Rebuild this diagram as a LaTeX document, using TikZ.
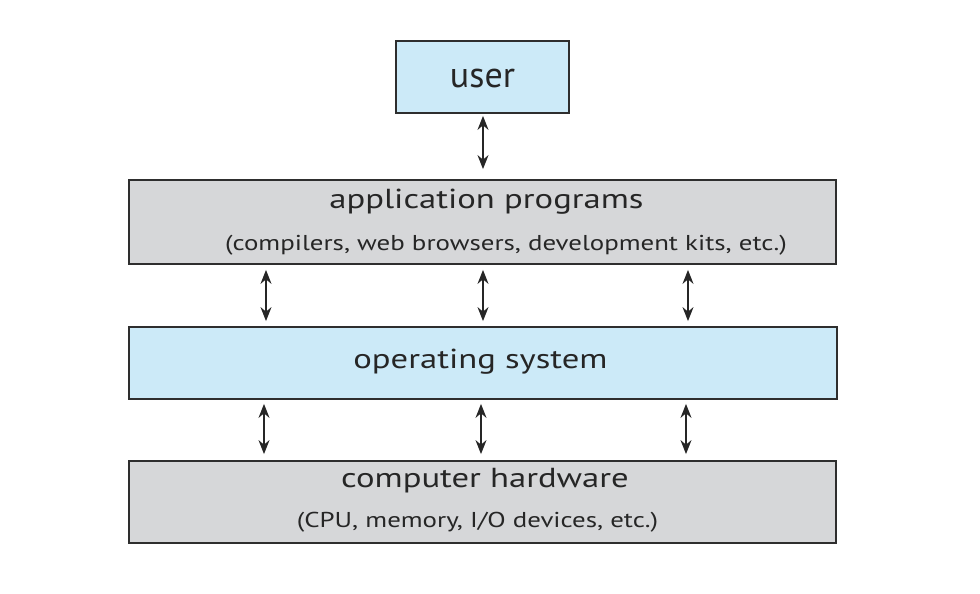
\documentclass[tikz,border=0pt]{standalone}
\usepackage{fontspec}
\setmainfont{PT Sans}
\newfontfamily\titlefont[FakeStretch=1.26]{PT Sans}
\newfontfamily\subfont[FakeStretch=1.25]{PT Sans}
\usetikzlibrary{arrows.meta}
\definecolor{boxblue}{HTML}{CCEAF8}
\definecolor{boxgray}{HTML}{D6D7D9}
\definecolor{edge}{HTML}{2E2E2E}
\tikzset{
  layer/.style={draw=edge, line width=1.8pt, inner sep=0pt},
  bluebox/.style={layer, fill=boxblue},
  graybox/.style={layer, fill=boxgray},
  usertext/.style={font=\fontsize{36}{40}\selectfont, text=black!85, inner sep=0pt, anchor=base},
  title/.style={font=\titlefont\fontsize{27.5}{30}\selectfont, text=black!85, inner sep=0pt, anchor=base},
  sub/.style={font=\subfont\fontsize{21.5}{24}\selectfont, text=black!85, inner sep=0pt, anchor=base},
  link/.style={{Stealth[length=14pt,width=11pt]}-{Stealth[length=14pt,width=11pt]}, line width=1.4pt, draw=black!85}
}
\begin{document}
\begin{tikzpicture}[x=1pt,y=-1pt]
\useasboundingbox (0,0) rectangle (980,594);
\node[bluebox, minimum width=173pt, minimum height=72pt] (user) at (482.5,77) {};
\node[graybox, minimum width=707pt, minimum height=84pt] (app) at (482.5,222) {};
\node[bluebox, minimum width=708pt, minimum height=72pt] (os) at (483,363) {};
\node[graybox, minimum width=707pt, minimum height=82pt] (hw) at (482.5,502) {};
\node[usertext] (tuser) at (482.5,88) {user};
\node[title] (tapp) at (486.5,208) {application programs};
\node[sub] (sapp) at (506,250) {(compilers, web browsers, development kits, etc.)};
\node[title] (tos) at (480.5,368) {operating system};
\node[title] (thw) at (485,487) {computer hardware};
\node[sub] (shw) at (477.5,527) {(CPU, memory, I/O devices, etc.)};
\coordinate (c1) at (266,0);
\coordinate (c2) at (483,0);
\coordinate (c3) at (688,0);
\coordinate (d1) at (264,0);
\coordinate (d2) at (481,0);
\coordinate (d3) at (686,0);
\draw[link, shorten <=2pt, shorten >=10pt] (user.south -| c2) -- (app.north -| c2);
\foreach \c in {c1,c2,c3}
  \draw[link, shorten <=5pt, shorten >=5pt] (app.south -| \c) -- (os.north -| \c);
\foreach \d in {d1,d2,d3}
  \draw[link, shorten <=4pt, shorten >=6pt] (os.south -| \d) -- (hw.north -| \d);
\end{tikzpicture}
\end{document}
